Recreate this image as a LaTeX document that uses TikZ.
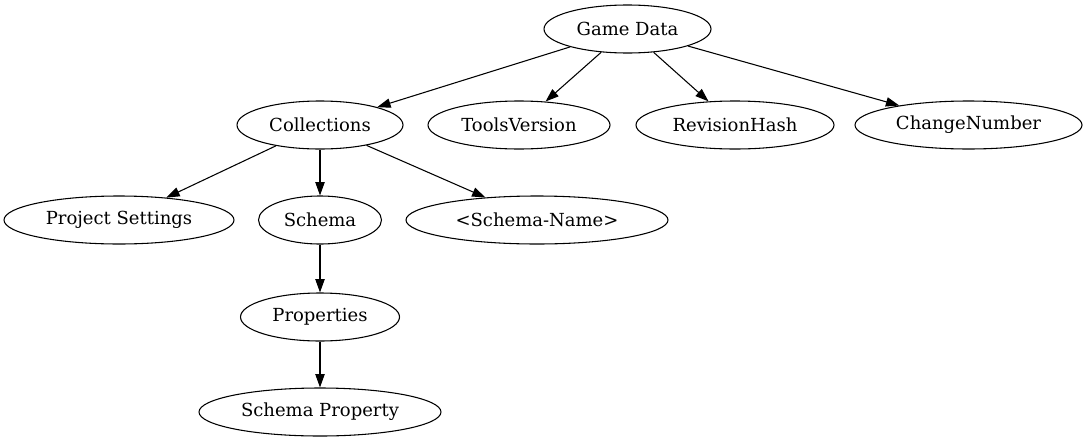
\documentclass[tikz,border=0pt]{standalone}
\usepackage{fontspec}
\setmainfont{DejaVu Serif}
\usetikzlibrary{shapes.geometric,arrows.meta}
\tikzset{
  nd/.style={draw, ellipse, line width=0.8pt, inner sep=0pt, minimum height=36pt, font=\fontsize{13.5}{16}\selectfont},
  edge/.style={draw, line width=0.8pt, -{Triangle[length=10pt,width=7pt]}}
}
\begin{document}
\begin{tikzpicture}[x=0.75pt,y=-0.75pt]
\useasboundingbox (0,0) rectangle (1088,443);
\node[nd, minimum width=125.25pt] (gd) at (627.5,29) {Game Data};
\node[nd, minimum width=124.5pt] (col) at (320,125) {Collections};
\node[nd, minimum width=136.5pt] (tv) at (519,125) {ToolsVersion};
\node[nd, minimum width=148.5pt] (rh) at (735,125) {RevisionHash};
\node[nd, minimum width=170.25pt] (cn) at (968.5,125) {ChangeNumber};
\node[nd, minimum width=172.5pt] (ps) at (119,220) {Project Settings};
\node[nd, minimum width=92.25pt] (sc) at (320,220) {Schema};
\node[nd, minimum width=196.5pt] (sn) at (537,220) {<Schema-Name>};
\node[nd, minimum width=119.25pt] (pr) at (320,317) {Properties};
\node[nd, minimum width=181.5pt] (sp) at (320,412) {Schema Property};
\draw[edge] (gd) -- (col);
\draw[edge] (gd) -- (tv);
\draw[edge] (gd) -- (rh);
\draw[edge] (gd) -- (cn);
\draw[edge] (col) -- (ps);
\draw[edge] (col) -- (sc);
\draw[edge] (col) -- (sn);
\draw[edge] (sc) -- (pr);
\draw[edge] (pr) -- (sp);
\end{tikzpicture}
\end{document}
